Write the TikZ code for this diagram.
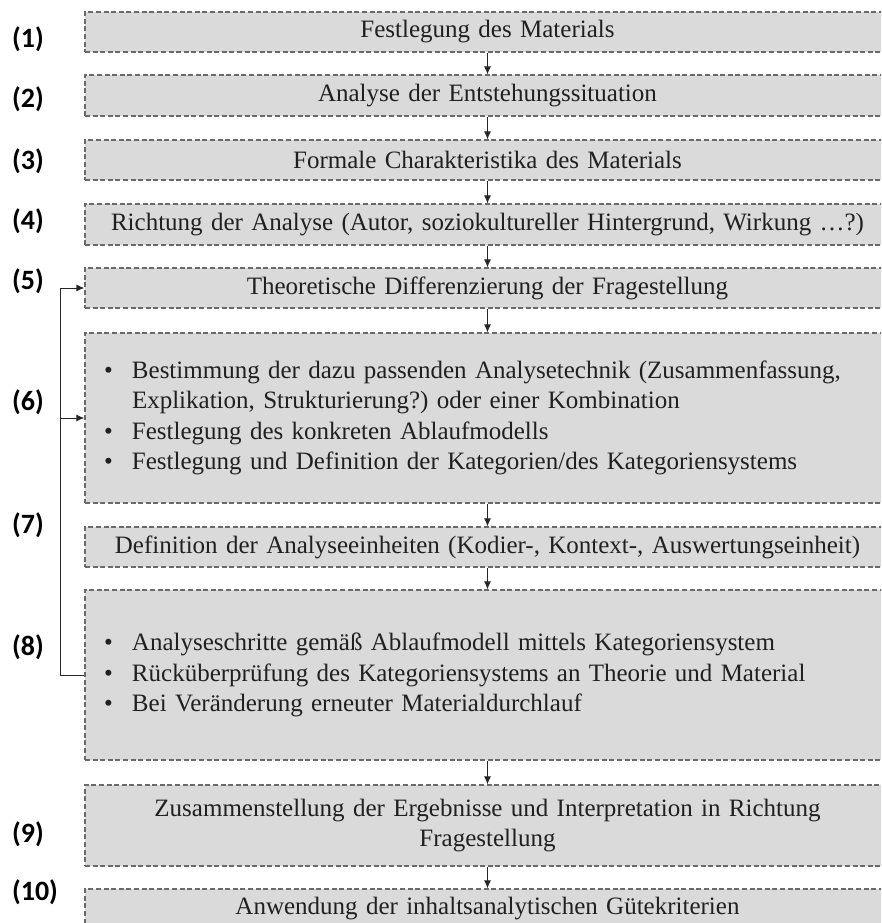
\documentclass[tikz,border=0pt]{standalone}
\usepackage{fontspec}
\setmainfont{Liberation Serif}
\newfontfamily\numfont{Carlito}
\usetikzlibrary{arrows.meta}
\definecolor{boxfill}{HTML}{DADADA}
\definecolor{boxline}{HTML}{6A6A6A}
\definecolor{txt}{HTML}{202020}
\newcommand{\bul}{\makebox[28pt][l]{\textbullet}}
\newcommand{\ind}{\makebox[28pt]{}}
\frenchspacing

\begin{document}
\begin{tikzpicture}[x=1pt, y=-1pt]

\tikzset{stepbox/.style = {draw=boxline, line width=1.2pt, dash pattern=on 5pt off 2.6pt, fill=boxfill, minimum width=805pt, text width=767pt, inner xsep=19pt, inner ysep=0pt, align=center, text=txt, font=\fontsize{25}{30.5}\selectfont}}
\tikzset{listbox/.style = {stepbox, align=left}}
\tikzset{num/.style = {font=\numfont\bfseries\fontsize{28}{30}\selectfont, inner sep=0pt}}
\tikzset{edge/.style = {-{Latex[length=8pt, width=7pt]}, line width=1pt, draw=black!85}}

\clip (0,0) rectangle (881,923);

% steps
\node[stepbox, minimum height=40pt] (1) at (487.5,32) {Festlegung des Materials};
\node[stepbox, minimum height=41pt] (2) at (487.5,95.5) {Analyse der Entstehungssituation};
\node[stepbox, minimum height=40pt] (3) at (487.5,160) {Formale Charakteristika des Materials};
\node[stepbox, minimum height=41pt] (4) at (487.5,224.5) {Richtung der Analyse (Autor, soziokultureller Hintergrund, Wirkung \dots?)};
\node[stepbox, minimum height=40pt] (5) at (487.5,288) {Theoretische Differenzierung der Fragestellung};
\node[listbox, minimum height=170pt] (6) at (487.5,418) {\bul Bestimmung der dazu passenden Analysetechnik (Zusammenfassung,\\
\ind Explikation, Strukturierung?) oder einer Kombination\\
\bul Festlegung des konkreten Ablaufmodells\\
\bul Festlegung und Definition der Kategorien/des Kategoriensystems};
\node[stepbox, minimum height=40pt] (7) at (487.5,547) {Definition der Analyseeinheiten (Kodier-, Kontext-, Auswertungseinheit)};
\node[listbox, minimum height=170pt] (8) at (487.5,675) {\bul Analyseschritte gemäß Ablaufmodell mittels Kategoriensystem\\
\bul Rücküberprüfung des Kategoriensystems an Theorie und Material\\
\bul Bei Veränderung erneuter Materialdurchlauf};
\node[stepbox, minimum height=81pt] (9) at (487.5,825.5) {Zusammenstellung der Ergebnisse und Interpretation in Richtung\\Fragestellung};
\node[stepbox, minimum height=40pt] (10) at (487.5,909) {Anwendung der inhaltsanalytischen Gütekriterien};

% numbers
\node[num] (n1) at (28,39) {(1)};
\node[num] (n2) at (28,99) {(2)};
\node[num] (n3) at (28,161.5) {(3)};
\node[num] (n4) at (28,221.5) {(4)};
\node[num] (n5) at (28,281) {(5)};
\node[num] (n6) at (28,402.5) {(6)};
\node[num] (n7) at (28,525.5) {(7)};
\node[num] (n8) at (28,647.5) {(8)};
\node[num] (n9) at (28,834) {(9)};
\node[num] (n10) at (35,892.5) {(10)};

%edges
\foreach \a/\b in {1/2,2/3,3/4,4/5,5/6,6/7,7/8,8/9,9/10}
  \draw[edge] (\a) -- (\b);

\coordinate (back) at (60,675);
\draw[edge] (8.west) -- (back) |- (5.west);
\draw[edge] (back |- 6.west) -- (6.west);

\end{tikzpicture}
\end{document}
